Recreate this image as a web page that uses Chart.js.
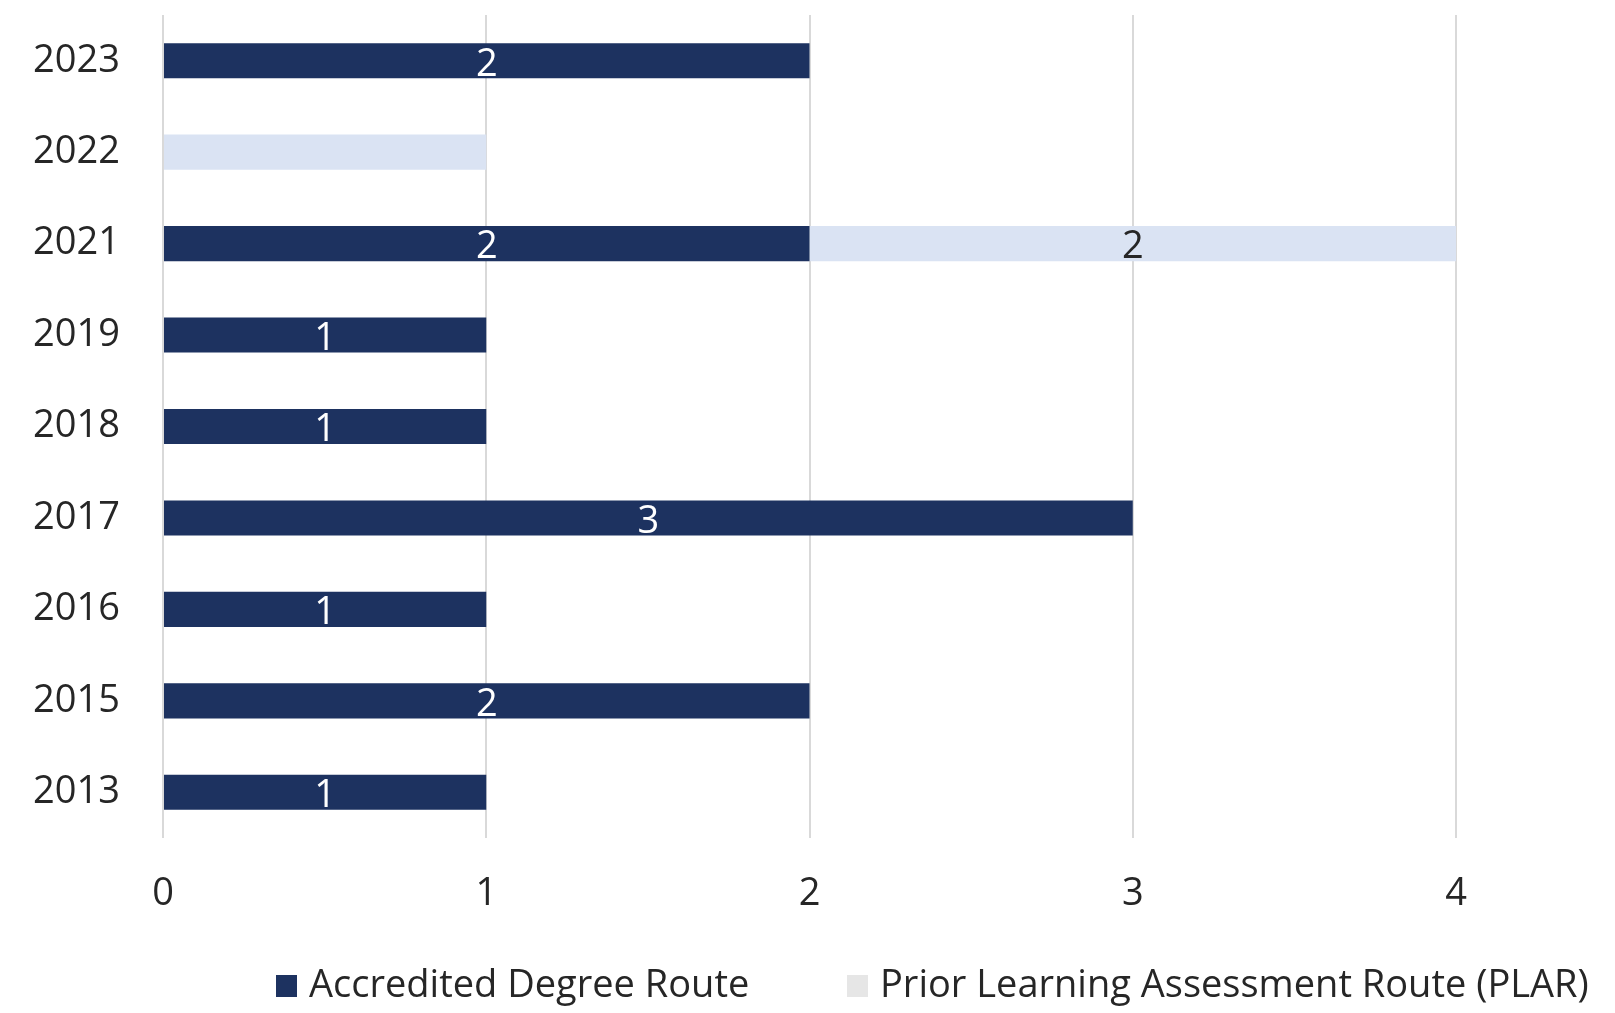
<!DOCTYPE html>
<html>
<head>
<meta charset="utf-8">
<script src="https://cdn.jsdelivr.net/npm/chart.js@4.4.0/dist/chart.umd.min.js"></script>
<style>
  html, body { margin: 0; padding: 0; background: #fff; }
  #wrap { width: 1615px; height: 1013px; }
</style>
</head>
<body>
<div id="wrap"><canvas id="routesChart" width="1615" height="1013"></canvas></div>
<script>
// Years, newest first (top of the chart)
var years = ['2023', '2022', '2021', '2019', '2018', '2017', '2016', '2015', '2013'];
var accreditedCounts = [2, 0, 2, 1, 1, 3, 1, 2, 1];
var plarCounts = [0, 1, 2, 0, 0, 0, 0, 0, 0];
var plarLabelShown = [false, false, true, false, false, false, false, false, false];
var xTickValues = [0, 1, 2, 3, 4];
var seriesNames = ['Accredited Degree Route', 'Prior Learning Assessment Route (PLAR)'];

var navy = '#1d3260';
var paleBlue = '#dae3f3';
var textColor = '#262626';

// Draws the numbers inside the bars
var barValueLabels = {
    id: 'barValueLabels',
    afterDatasetsDraw: function(chart) {
        var ctx = chart.ctx;
        ctx.save();
        ctx.font = '38px "Open Sans"';
        ctx.textAlign = 'center';
        ctx.textBaseline = 'middle';
        chart.data.datasets.forEach(function(ds, di) {
            var meta = chart.getDatasetMeta(di);
            meta.data.forEach(function(bar, i) {
                var v = ds.data[i];
                if (!v) return;
                if (ds.labelShown && !ds.labelShown[i]) return;
                var c = bar.getCenterPoint();
                ctx.fillStyle = ds.labelColor;
                ctx.fillText(String(v), c.x, c.y + 4);
            });
        });
        ctx.restore();
    }
};

// Legend row at the bottom (spaced like the original)
var legendRow = {
    id: 'legendRow',
    afterDraw: function(chart) {
        var ctx = chart.ctx;
        var startX = [276, 847];
        var y = 986;
        ctx.save();
        ctx.font = '38px "Open Sans"';
        ctx.textBaseline = 'middle';
        ctx.textAlign = 'left';
        chart.data.datasets.forEach(function(ds, i) {
            ctx.fillStyle = i === 0 ? ds.backgroundColor : '#e6e6e6';
            ctx.fillRect(startX[i], y - 11, 21, 22);
            ctx.fillStyle = textColor;
            ctx.fillText(ds.label, startX[i] + 33, y);
        });
        ctx.restore();
    }
};

var ctx = document.getElementById('routesChart').getContext('2d');

var routesChart = new Chart(ctx, {
    type: 'bar',
    data: {
        labels: years,
        datasets: [{
            label: seriesNames[0],
            data: accreditedCounts,
            backgroundColor: navy,
            labelColor: '#ffffff',
            categoryPercentage: 0.8,
            barPercentage: 0.48
        }, {
            label: seriesNames[1],
            data: plarCounts,
            backgroundColor: paleBlue,
            labelColor: textColor,
            labelShown: plarLabelShown,
            categoryPercentage: 0.8,
            barPercentage: 0.48
        }]
    },
    options: {
        indexAxis: 'y',
        responsive: false,
        animation: false,
        layout: {
            padding: { top: 15, left: 0, right: 159, bottom: 0 }
        },
        scales: {
            x: {
                stacked: true,
                min: 0,
                max: 4,
                afterBuildTicks: function(scale) {
                    scale.ticks = xTickValues.map(function(v) { return { value: v }; });
                },
                afterFit: function(scale) {
                    scale.height = 175;
                    scale.paddingLeft = 0;
                    scale.paddingRight = 0;
                },
                grid: { color: '#d9d9d9', lineWidth: 2, drawTicks: false },
                border: { display: false },
                ticks: {
                    padding: 33,
                    color: textColor,
                    font: { family: 'Open Sans', size: 38 }
                }
            },
            y: {
                stacked: true,
                afterFit: function(scale) {
                    scale.width = 163;
                    // keep the tick padding from pushing the plot down
                    scale.paddingTop = 0;
                    scale.paddingBottom = 0;
                },
                grid: { display: false, drawTicks: false },
                border: { display: false },
                ticks: {
                    padding: 43,
                    color: textColor,
                    font: { family: 'Open Sans', size: 38 }
                }
            }
        },
        plugins: {
            legend: { display: false },
            tooltip: { enabled: false }
        }
    },
    plugins: [barValueLabels, legendRow]
});
</script>
</body>
</html>
